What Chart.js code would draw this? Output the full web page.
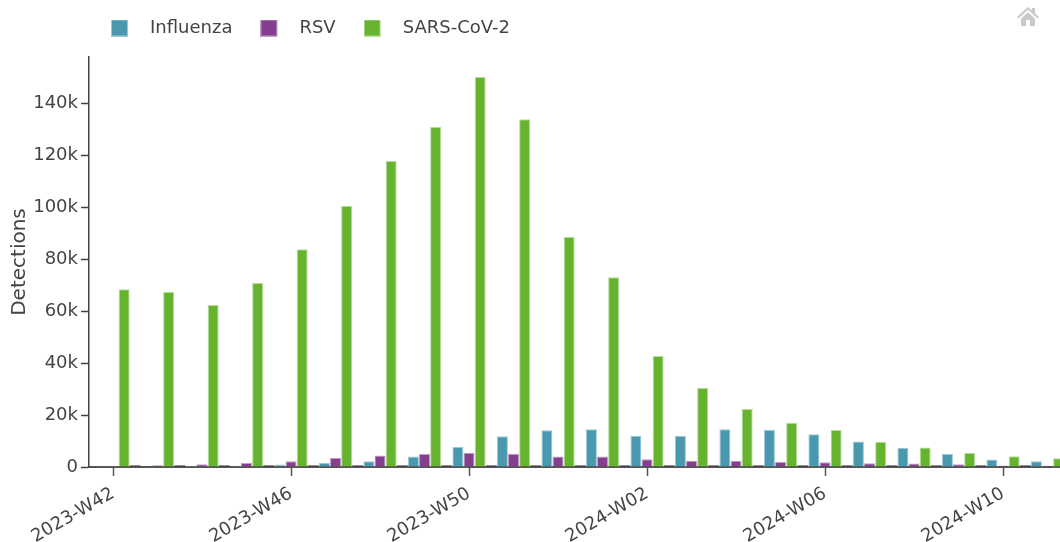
<!DOCTYPE html>
<html>
<head>
<meta charset="utf-8">
<style>
html,body{margin:0;padding:0;background:#fff;overflow:hidden}
#wrap{position:relative;width:1060px;height:542px}
canvas{display:block}
#home{position:absolute;left:1017px;top:6px}
</style>
<script src="https://cdn.jsdelivr.net/npm/chart.js@4/dist/chart.umd.min.js"></script>
</head>
<body>
<div id="wrap">
<canvas id="c" width="1060" height="542"></canvas>
<svg id="home" width="22" height="20" viewBox="0 0 22 20"><path fill="#c9c9c9" d="M11 1 L15 4.6 V2 H18 V7.3 L22 11 L20.6 12.4 L11 3.8 L1.4 12.4 L0 11 Z M4 12.6 L11 6.2 L18 12.6 V20 H13 V14 H9 V20 H4 Z"/></svg>
</div>
<script>
const weeks = ["2023-W42","2023-W43","2023-W44","2023-W45","2023-W46","2023-W47","2023-W48","2023-W49","2023-W50","2023-W51","2023-W52","2024-W01","2024-W02","2024-W03","2024-W04","2024-W05","2024-W06","2024-W07","2024-W08","2024-W09","2024-W10","2024-W11"];
const influenza = [100,200,400,500,1000,1500,2200,4000,7700,11800,14100,14500,12000,12000,14500,14200,12600,9800,7400,5000,2900,2200];
const rsv = [400,700,1100,1500,2200,3500,4400,5000,5500,5100,4000,4000,3000,2400,2400,1900,1800,1400,1300,1100,600,500];
const sars = [68400,67300,62300,70800,83800,100400,117700,130800,150000,133800,88500,73000,42700,30400,22300,17000,14200,9700,7500,5400,4100,3400];
const other = [700,700,700,700,700,700,700,700,700,700,700,700,700,700,700,700,700,700,700,700,700,700];
const fontFam = '"DejaVu Sans", sans-serif';
const textCol = '#444';
const slotShift = 0.125;

function pts(arr){ return arr.map((v,i)=>({x:i+slotShift,y:v})); }
function swatch(fill,line){
  const s=document.createElement('canvas'); s.width=30; s.height=17;
  const g=s.getContext('2d');
  g.fillStyle=line; g.fillRect(0,0,17,17);
  g.fillStyle=fill; g.fillRect(1,1,15,15);
  return s;
}
function ds(label,arr,fill,line){
  return {label,data:pts(arr),backgroundColor:fill,borderColor:line,borderWidth:1,categoryPercentage:1,barPercentage:0.99};
}
const swatches = [swatch('#4a98ad','#9cc9d5'),swatch('#843f8e','#c09cc6'),swatch('#66b32e','#b6dc9a')];

new Chart(document.getElementById('c'),{
  type:'bar',
  data:{datasets:[
    ds('Influenza',influenza,'#4a98ad','#9cc9d5'),
    ds('RSV',rsv,'#843f8e','#c09cc6'),
    ds('SARS-CoV-2',sars,'#66b32e','#b6dc9a'),
    ds('Other',other,'#222222','#222222')
  ]},
  plugins:[{id:'legendPlace',afterLayout(chart){chart.legend.left=83;chart.legend.top=-9;}}],
  options:{
    responsive:false,animation:false,
    layout:{padding:{left:0,right:0,top:1,bottom:0}},
    plugins:{
      tooltip:{enabled:false},
      legend:{
        position:'top',align:'start',
        labels:{
          usePointStyle:true,pointStyleWidth:30,padding:28,color:textCol,
          font:{family:fontFam,size:18},
          generateLabels(chart){
            return Chart.defaults.plugins.legend.labels.generateLabels(chart)
              .filter(l=>l.datasetIndex<3)
              .map(l=>Object.assign(l,{pointStyle:swatches[l.datasetIndex]}));
          }
        }
      }
    },
    scales:{
      x:{
        type:'linear',offset:false,min:-0.54,max:21.28,
        afterFit(s){s.height=75;},
        grid:{offset:false,drawOnChartArea:false,drawTicks:true,tickLength:9,tickColor:'#555',tickWidth:1.5},
        border:{color:'#555',width:2},
        ticks:{
          stepSize:4,includeBounds:false,autoSkip:false,minRotation:30,maxRotation:30,padding:7,
          color:textCol,font:{family:fontFam,size:18},
          callback(v){return weeks[v];}
        }
      },
      y:{
        beginAtZero:true,max:157700,
        afterFit(s){s.width=89;},
        grid:{drawOnChartArea:false,drawTicks:true,tickLength:8,tickColor:'#444',tickWidth:1.5},
        border:{color:'#444',width:1.5},
        title:{display:true,text:'Detections',color:textCol,font:{family:fontFam,size:20},padding:{top:8,bottom:0}},
        ticks:{
          stepSize:20000,includeBounds:false,padding:3,color:textCol,font:{family:fontFam,size:18},
          callback(v){return v===0?'0':(v/1000)+'k';}
        }
      }
    }
  }
});
</script>
</body>
</html>
